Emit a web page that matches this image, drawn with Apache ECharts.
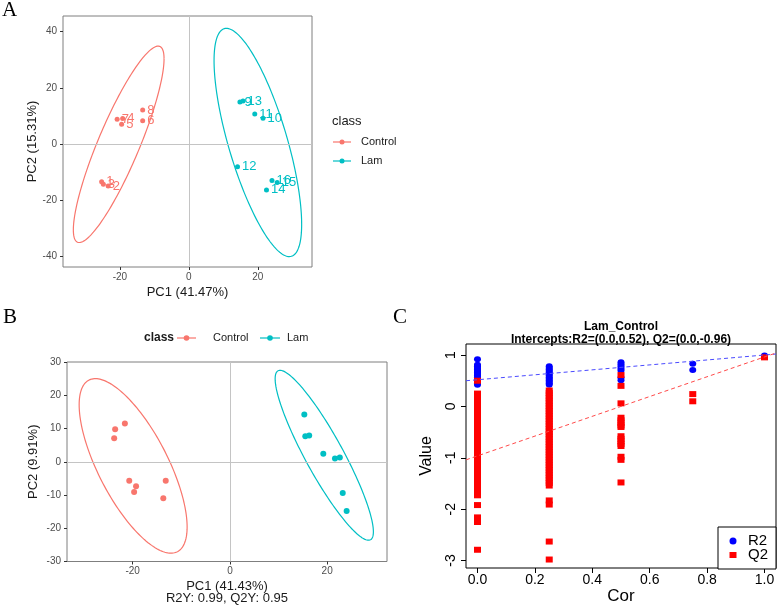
<!DOCTYPE html>
<html><head><meta charset="utf-8">
<script src="https://cdn.jsdelivr.net/npm/echarts@6/dist/echarts.min.js"></script>
<style>html,body{margin:0;padding:0;background:#fff}#c{width:778px;height:606px}</style>
</head><body><div id="c"></div>
<script>
const RED = '#F8766D', TEAL = '#00BFC4';
const FONT = '"Liberation Sans", Arial, sans-serif';

// ---------- Panel A (PCA scores, labelled) ----------
const aControlNames = ['1','2','3','4','5','6','7','8'];
const aControlX = [-25.3,-23.4,-24.8,-19.2,-19.5,-13.4,-20.8,-13.4];
const aControlY = [-13.4,-14.9,-14.3,9.1,7.0,8.3,8.8,12.1];
const aLamNames = ['9','10','11','12','13','14','15','16'];
const aLamX = [14.8,21.5,19.1,14.1,15.7,22.5,25.6,24.1];
const aLamY = [14.9,9.2,10.7,-8.1,15.3,-16.3,-13.7,-13.0];
// ellipse: [centerX, centerY, halfWidthX, halfHeightY, correlation]
const aEllControl = [-20.35,-0.1,13.15,34.9,0.87];
const aEllLam = [20.0,0.55,12.7,40.55,-0.717];
const aTicksX = [-20,0,20];
const aTicksY = [-40,-20,0,20,40];

// ---------- Panel B (OPLS-DA / PLS-DA scores) ----------
const bControlX = [-23.6,-23.8,-21.6,-20.7,-19.3,-19.7,-13.2,-13.7];
const bControlY = [9.8,7.1,11.5,-5.7,-7.4,-9.1,-5.7,-11.0];
const bLamX = [15.3,15.5,16.3,19.2,21.6,22.6,23.2,24.0];
const bLamY = [14.2,7.7,7.9,2.4,1.0,1.3,-9.4,-14.8];
const bEllControl = [-19.9,-1.25,11.1,26.25,-0.70];
const bEllLam = [19.4,1.95,10.1,25.55,-0.90];
const bTicksX = [-20,0,20];
const bTicksY = [-30,-20,-10,0,10,20,30];

// ---------- Panel C (permutation test) ----------
const cCor = [0, 0.25, 0.5, 0.75, 1.0];
const cR2 = [
  [0.92,0.81,0.78,0.75,0.72,0.69,0.66,0.63,0.60,0.57,0.54,0.51,0.48,0.45,0.42],
  [0.78,0.75,0.72,0.69,0.66,0.63,0.60,0.57,0.54,0.51,0.48,0.45,0.42],
  [0.86,0.82,0.78,0.74,0.70,0.56,0.51],
  [0.83,0.71],
  [0.99]
];
const cQ2 = [
  [0.50,0.25,0.20,0.15,0.10,0.05,0.00,-0.05,-0.10,-0.15,-0.20,-0.25,-0.30,-0.35,-0.40,-0.45,-0.50,-0.55,-0.60,-0.65,-0.70,-0.75,-0.80,-0.85,-0.90,-0.95,-1.00,-1.05,-1.10,-1.15,-1.20,-1.25,-1.30,-1.35,-1.40,-1.45,-1.50,-1.55,-1.60,-1.65,-1.70,-1.73,-1.92,-2.16,-2.25,-2.79],
  [0.31,0.26,0.21,0.16,0.11,0.06,0.01,-0.04,-0.09,-0.14,-0.19,-0.24,-0.29,-0.34,-0.39,-0.44,-0.49,-0.54,-0.59,-0.64,-0.69,-0.74,-0.79,-0.84,-0.89,-0.94,-0.99,-1.04,-1.09,-1.14,-1.19,-1.24,-1.29,-1.34,-1.39,-1.44,-1.49,-1.54,-1.83,-1.91,-2.63,-2.98],
  [0.61,0.40,0.06,-0.22,-0.27,-0.32,-0.37,-0.40,-0.58,-0.63,-0.68,-0.73,-0.77,-0.98,-1.04,-1.48],
  [0.24,0.10],
  [0.955]
];
const cR2Line = [[-0.04,0.50],[1.04,1.02]];
const cQ2Line = [[-0.04,-1.04],[1.04,1.04]];
const cTicksX = [0,0.2,0.4,0.6,0.8,1.0];
const cTicksY = [-3,-2,-1,0,1];

function ellipseSeries(xi, params, color){
  return {
    type:'custom', xAxisIndex:xi, yAxisIndex:xi, silent:true, z:2,
    data:[params], encode:{x:0,y:1},
    renderItem:function(p, api){
      const cx=api.value(0), cy=api.value(1), rx=api.value(2), ry=api.value(3), r=api.value(4);
      const k=Math.sqrt(1-r*r), pts=[];
      for(let i=0;i<=180;i++){
        const t=i/180*2*Math.PI;
        pts.push(api.coord([cx+rx*Math.cos(t), cy+ry*(r*Math.cos(t)+k*Math.sin(t))]));
      }
      return {type:'polyline', shape:{points:pts}, style:{stroke:color, fill:null, lineWidth:1.2}};
    }
  };
}
function zeroLines(xi){
  return {type:'scatter', xAxisIndex:xi, yAxisIndex:xi, data:[], silent:true, z:1,
    markLine:{silent:true, symbol:['none','none'], label:{show:false},
      lineStyle:{color:'#c4c4c4', width:1, type:'solid'},
      data:[{xAxis:0},{yAxis:0}]}};
}
function pts(xs, ys, names){
  return xs.map((x,i)=>({value:[x, ys[i]], name: names ? names[i] : ''}));
}
function ggAxis(gi, min, max, ticks, isX, name, nameGap){
  return {
    type:'value', gridIndex:gi, min:min, max:max, name:name, nameLocation:'middle', nameGap:nameGap,
    nameTextStyle:{fontFamily:FONT, fontSize:13, color:'#1a1a1a', lineHeight:12},
    axisLine:{show:false, onZero:false}, splitLine:{show:false},
    axisTick:{show:true, length:3, lineStyle:{color:'#333'}, customValues:ticks},
    axisLabel:{fontFamily:FONT, fontSize:10, color:'#4d4d4d', margin:isX?5:6, customValues:ticks}
  };
}
const cStack = (arr)=>{ const out=[]; arr.forEach((vals,i)=>vals.forEach(v=>out.push([cCor[i], v]))); return out; };

const chart = echarts.init(document.getElementById('c'), null, {renderer:'canvas'});
chart.setOption({
  animation:false,
  backgroundColor:'#fff',
  grid:[
    {left:63, top:16, width:249, height:251, show:true, borderColor:'#7f7f7f', borderWidth:1, backgroundColor:'transparent'},
    {left:67, top:362, width:320, height:205, show:true, borderColor:'#7f7f7f', borderWidth:1, backgroundColor:'transparent'},
    {left:466, top:344, width:310, height:225, show:true, borderColor:'#000', borderWidth:1, backgroundColor:'transparent'}
  ],
  xAxis:[
    ggAxis(0, -36.5, 35.7, aTicksX, true, 'PC1 (41.47%)', 19),
    ggAxis(1, -33.5, 32.3, bTicksX, true, 'PC1 (41.43%)\nR2Y: 0.99, Q2Y: 0.95', 19),
    {type:'value', gridIndex:2, min:-0.04, max:1.04, name:'Cor', nameLocation:'middle', nameGap:20,
      nameTextStyle:{fontFamily:FONT, fontSize:17, color:'#000'},
      axisLine:{show:false, onZero:false}, splitLine:{show:false},
      axisTick:{show:true, length:5, lineStyle:{color:'#000'}, customValues:cTicksX},
      axisLabel:{fontFamily:FONT, fontSize:14, color:'#000', margin:5, customValues:cTicksX, formatter:v=>v.toFixed(1)}}
  ],
  yAxis:[
    ggAxis(0, -43.7, 45.5, aTicksY, false, 'PC2 (15.31%)', 23),
    ggAxis(1, -30, 30, bTicksY, false, 'PC2 (9.91%)', 28),
    {type:'value', gridIndex:2, min:-3.145, max:1.215, name:'Value', nameLocation:'middle', nameGap:31,
      nameTextStyle:{fontFamily:FONT, fontSize:16, color:'#000'},
      axisLine:{show:false, onZero:false}, splitLine:{show:false},
      axisTick:{show:true, length:5, lineStyle:{color:'#000'}, customValues:cTicksY},
      axisLabel:{fontFamily:FONT, fontSize:14, color:'#000', margin:8, rotate:90, customValues:cTicksY}}
  ],
  series:[
    zeroLines(0),
    ellipseSeries(0, aEllControl, RED),
    ellipseSeries(0, aEllLam, TEAL),
    {type:'scatter', xAxisIndex:0, yAxisIndex:0, symbolSize:5, z:3, itemStyle:{color:RED, opacity:1},
      data:pts(aControlX, aControlY, aControlNames),
      label:{show:true, position:'right', distance:2, formatter:'{b}', color:RED, fontFamily:FONT, fontSize:13}},
    {type:'scatter', xAxisIndex:0, yAxisIndex:0, symbolSize:5, z:3, itemStyle:{color:TEAL, opacity:1},
      data:pts(aLamX, aLamY, aLamNames),
      label:{show:true, position:'right', distance:2, formatter:'{b}', color:TEAL, fontFamily:FONT, fontSize:13}},

    zeroLines(1),
    ellipseSeries(1, bEllControl, RED),
    ellipseSeries(1, bEllLam, TEAL),
    {type:'scatter', xAxisIndex:1, yAxisIndex:1, symbolSize:6, z:3, itemStyle:{color:RED, opacity:1}, data:pts(bControlX, bControlY)},
    {type:'scatter', xAxisIndex:1, yAxisIndex:1, symbolSize:6, z:3, itemStyle:{color:TEAL, opacity:1}, data:pts(bLamX, bLamY)},

    {type:'scatter', xAxisIndex:2, yAxisIndex:2, symbol:'circle', symbolSize:[7,6], z:3, itemStyle:{color:'#0000ff', opacity:1}, data:cStack(cR2)},
    {type:'scatter', xAxisIndex:2, yAxisIndex:2, symbol:'rect', symbolSize:[7,6], z:4, itemStyle:{color:'#ff0000', opacity:1}, data:cStack(cQ2)},
    {type:'line', xAxisIndex:2, yAxisIndex:2, symbol:'none', z:5, silent:true, data:cR2Line, lineStyle:{color:'#4a4aff', width:1, type:[4,3]}},
    {type:'line', xAxisIndex:2, yAxisIndex:2, symbol:'none', z:5, silent:true, data:cQ2Line, lineStyle:{color:'#ff4a4a', width:1, type:[4,3]}}
  ],
  graphic:[
    {type:'text', left:2, top:0, style:{text:'A', font:'21px "Liberation Serif", serif', fill:'#000'}},
    {type:'text', left:3, top:307, style:{text:'B', font:'21px "Liberation Serif", serif', fill:'#000'}},
    {type:'text', left:393, top:307, style:{text:'C', font:'21px "Liberation Serif", serif', fill:'#000'}},
    // legend A
    {type:'text', x:332, y:121, style:{text:'class', font:'13px '+FONT, fill:'#1a1a1a', textVerticalAlign:'middle'}},
    {type:'line', shape:{x1:333, y1:142, x2:351, y2:142}, style:{stroke:RED, lineWidth:1.2}},
    {type:'circle', shape:{cx:342, cy:142, r:2.5}, style:{fill:RED}},
    {type:'text', x:361, y:142, style:{text:'Control', font:'11px '+FONT, fill:'#1a1a1a', textVerticalAlign:'middle'}},
    {type:'line', shape:{x1:333, y1:161, x2:351, y2:161}, style:{stroke:TEAL, lineWidth:1.2}},
    {type:'circle', shape:{cx:342, cy:161, r:2.5}, style:{fill:TEAL}},
    {type:'text', x:361, y:161, style:{text:'Lam', font:'11px '+FONT, fill:'#1a1a1a', textVerticalAlign:'middle'}},
    // legend B
    {type:'text', x:144, y:338, style:{text:'class', font:'bold 12px '+FONT, fill:'#1a1a1a', textVerticalAlign:'middle'}},
    {type:'line', shape:{x1:177, y1:338, x2:196, y2:338}, style:{stroke:RED, lineWidth:1.2}},
    {type:'circle', shape:{cx:186.5, cy:338, r:2.8}, style:{fill:RED}},
    {type:'text', x:213, y:338, style:{text:'Control', font:'11px '+FONT, fill:'#1a1a1a', textVerticalAlign:'middle'}},
    {type:'line', shape:{x1:260, y1:338, x2:280, y2:338}, style:{stroke:TEAL, lineWidth:1.2}},
    {type:'circle', shape:{cx:270, cy:338, r:2.8}, style:{fill:TEAL}},
    {type:'text', x:287, y:338, style:{text:'Lam', font:'11px '+FONT, fill:'#1a1a1a', textVerticalAlign:'middle'}},
    // title C
    {type:'text', x:621, y:327, style:{text:'Lam_Control', font:'bold 12px '+FONT, fill:'#000', textAlign:'center', textVerticalAlign:'middle'}},
    {type:'text', x:621, y:339.5, style:{text:'Intercepts:R2=(0.0,0.52), Q2=(0.0,-0.96)', font:'bold 12px '+FONT, fill:'#000', textAlign:'center', textVerticalAlign:'middle'}},
    // legend C
    {type:'rect', shape:{x:718, y:527, width:58, height:42}, style:{fill:'#fff', stroke:'#000', lineWidth:1}, z:10},
    {type:'circle', shape:{cx:733, cy:541, r:3.5}, style:{fill:'#0000ff'}, z:11},
    {type:'text', x:748, y:541, style:{text:'R2', font:'15px '+FONT, fill:'#000', textVerticalAlign:'middle'}, z:11},
    {type:'rect', shape:{x:729.5, y:552, width:7, height:6}, style:{fill:'#ff0000'}, z:11},
    {type:'text', x:748, y:555, style:{text:'Q2', font:'15px '+FONT, fill:'#000', textVerticalAlign:'middle'}, z:11}
  ]
});
</script>
</body></html>
